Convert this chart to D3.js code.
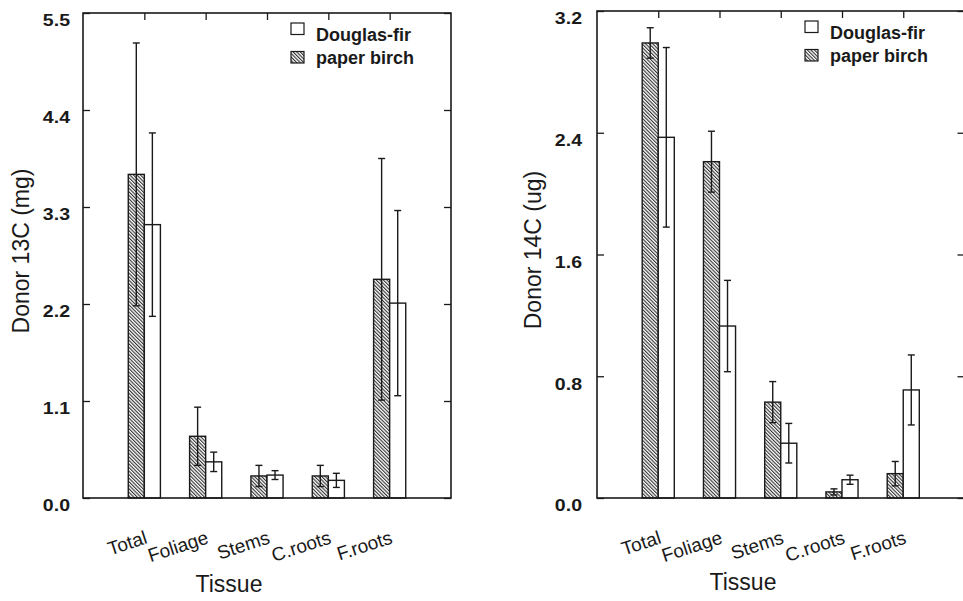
<!DOCTYPE html>
<html>
<head>
<meta charset="utf-8">
<script src="https://cdn.jsdelivr.net/npm/d3@7"></script>
<style>
  html, body { margin: 0; padding: 0; background: #fff; }
  svg { display: block; }
  text { font-family: "Liberation Sans", Arial, sans-serif; fill: #1a1a1a; }
</style>
</head>
<body>
<svg id="chart" width="963" height="601"></svg>
<script>
// ---- data ----
const categories = ["Total", "Foliage", "Stems", "C.roots", "F.roots"];
const seriesNames = ["Douglas-fir", "paper birch"];

const c13Birch    = [3.67, 0.70, 0.25, 0.25, 2.48];
const c13BirchErr = [1.49, 0.33, 0.12, 0.12, 1.37];
const c13Fir      = [3.10, 0.41, 0.26, 0.20, 2.21];
const c13FirErr   = [1.04, 0.11, 0.05, 0.08, 1.05];
const c13Ticks    = [0, 1.1, 2.2, 3.3, 4.4, 5.5];

const c14Birch    = [2.99, 2.21, 0.63, 0.04, 0.16];
const c14BirchErr = [0.10, 0.20, 0.135, 0.02, 0.08];
const c14Fir      = [2.37, 1.13, 0.36, 0.12, 0.71];
const c14FirErr   = [0.59, 0.30, 0.13, 0.03, 0.23];
const c14Ticks    = [0, 0.8, 1.6, 2.4, 3.2];

const yTitles = ["Donor 13C (mg)", "Donor 14C (ug)"];
const xTitle = "Tissue";

// ---- drawing ----
const svg = d3.select("#chart");
const ink = "#1a1a1a";

const defs = svg.append("defs");
const pat = defs.append("pattern")
  .attr("id", "hatch")
  .attr("patternUnits", "userSpaceOnUse")
  .attr("width", 2.5).attr("height", 2.5)
  .attr("patternTransform", "rotate(-45)");
pat.append("rect").attr("width", 2.5).attr("height", 2.5).attr("fill", "#fff");
pat.append("line").attr("x1", 0.6).attr("y1", 0).attr("x2", 0.6).attr("y2", 2.5)
  .attr("stroke", ink).attr("stroke-width", 1);

const panels = [
  { left: 83, right: 451, top: 13, bottom: 498, max: 5.5, ticks: c13Ticks,
    birch: c13Birch, birchErr: c13BirchErr, fir: c13Fir, firErr: c13FirErr,
    title: yTitles[0], titleX: 29, titleY: 251, tissueX: 229, tissueY: 592, labelPad: 13 },
  { left: 597, right: 964.5, top: 11, bottom: 498, max: 3.2, ticks: c14Ticks,
    birch: c14Birch, birchErr: c14BirchErr, fir: c14Fir, firErr: c14FirErr,
    title: yTitles[1], titleX: 541, titleY: 250, tissueX: 743, tissueY: 590, labelPad: 15 }
];

panels.forEach(p => {
  const g = svg.append("g");
  const x = d3.scaleLinear().domain([0, categories.length + 1]).range([p.left, p.right]);
  const y = d3.scaleLinear().domain([0, p.max]).range([p.bottom, p.top]);
  const bw = 0.262; // bar width in category units

  const birchRects = categories.map((c, i) => ({ i, v: p.birch[i], e: p.birchErr[i], x0: i + 1 - bw, x1: i + 1 }));
  const firRects   = categories.map((c, i) => ({ i, v: p.fir[i],   e: p.firErr[i],   x0: i + 1,      x1: i + 1 + bw }));

  g.selectAll("rect.birch").data(birchRects).join("rect")
    .attr("class", "birch")
    .attr("x", d => x(d.x0)).attr("width", d => x(d.x1) - x(d.x0))
    .attr("y", d => y(d.v)).attr("height", d => y(0) - y(d.v))
    .attr("fill", "url(#hatch)").attr("stroke", ink).attr("stroke-width", 1.4);

  g.selectAll("rect.fir").data(firRects).join("rect")
    .attr("class", "fir")
    .attr("x", d => x(d.x0)).attr("width", d => x(d.x1) - x(d.x0))
    .attr("y", d => y(d.v)).attr("height", d => y(0) - y(d.v))
    .attr("fill", "#fff").attr("stroke", ink).attr("stroke-width", 1.4);

  // error bars
  const errs = birchRects.concat(firRects);
  const cx = d => x((d.x0 + d.x1) / 2);
  const eg = g.selectAll("g.err").data(errs).join("g").attr("class", "err")
    .attr("stroke", ink).attr("stroke-width", 1.4);
  eg.append("line")
    .attr("x1", cx).attr("x2", cx)
    .attr("y1", d => y(d.v - d.e)).attr("y2", d => y(d.v + d.e));
  eg.append("line")
    .attr("x1", d => cx(d) - 3.5).attr("x2", d => cx(d) + 3.5)
    .attr("y1", d => y(d.v + d.e)).attr("y2", d => y(d.v + d.e));
  eg.append("line")
    .attr("x1", d => cx(d) - 3.5).attr("x2", d => cx(d) + 3.5)
    .attr("y1", d => y(d.v - d.e)).attr("y2", d => y(d.v - d.e));

  // axes (inward ticks)
  const yAx = g.append("g").attr("transform", `translate(${p.left},0)`)
    .call(d3.axisLeft(y).tickValues(p.ticks).tickSize(-7).tickPadding(p.labelPad).tickFormat(d3.format(".1f")));
  yAx.select(".domain").remove();
  yAx.selectAll("line").attr("stroke", ink).attr("stroke-width", 1.3);
  yAx.selectAll("text")
    .attr("x", null).attr("dy", null)
    .attr("transform", `translate(${-p.labelPad},12.8) scale(1.15,1)`)
    .attr("text-anchor", "end")
    .style("font-size", "17px").style("font-weight", "bold")
    .attr("fill", ink).attr("font-family", null);

  const yAxR = g.append("g").attr("transform", `translate(${p.right},0)`)
    .call(d3.axisRight(y).tickValues(p.ticks).tickSize(-7).tickFormat(""));
  yAxR.select(".domain").remove();
  yAxR.selectAll("line").attr("stroke", ink).attr("stroke-width", 1.3);

  const xAxT = g.append("g").attr("transform", `translate(0,${p.top})`)
    .call(d3.axisTop(x).tickValues(d3.range(1, categories.length + 1)).tickSize(-7).tickFormat(""));
  xAxT.select(".domain").remove();
  xAxT.selectAll("line").attr("stroke", ink).attr("stroke-width", 1.3);

  // frame
  g.append("rect")
    .attr("x", p.left).attr("y", p.top)
    .attr("width", p.right - p.left).attr("height", p.bottom - p.top)
    .attr("fill", "none").attr("stroke", ink).attr("stroke-width", 1.6);

  // category labels (rotated)
  g.selectAll("text.cat").data(categories).join("text")
    .attr("class", "cat")
    .attr("transform", (d, i) => `translate(${x(i + 1) + 4},${p.bottom + 45}) rotate(-18)`)
    .attr("text-anchor", "end")
    .style("font-size", "19px")
    .text(d => d);

  // x title
  g.append("text")
    .attr("x", p.tissueX).attr("y", p.tissueY)
    .attr("text-anchor", "middle")
    .style("font-size", "23px")
    .text(xTitle);

  // y title
  g.append("text")
    .attr("transform", `translate(${p.titleX},${p.titleY}) rotate(-90)`)
    .attr("text-anchor", "middle")
    .style("font-size", "23px")
    .text(p.title);

  // legend
  const lx = p.left + 208, ly = p.top + 10;
  const leg = g.append("g");
  leg.append("rect").attr("x", lx).attr("y", ly).attr("width", 13).attr("height", 11.5)
    .attr("fill", "#fff").attr("stroke", ink).attr("stroke-width", 1.2);
  leg.append("rect").attr("x", lx).attr("y", ly + 28.5).attr("width", 13).attr("height", 11.5)
    .attr("fill", "url(#hatch)").attr("stroke", ink).attr("stroke-width", 1.2);
  leg.append("text").attr("x", lx + 25).attr("y", ly + 18)
    .style("font-size", "18px").style("font-weight", "bold").text(seriesNames[0]);
  leg.append("text").attr("x", lx + 25).attr("y", ly + 41)
    .style("font-size", "18px").style("font-weight", "bold").text(seriesNames[1]);
});
</script>
</body>
</html>
